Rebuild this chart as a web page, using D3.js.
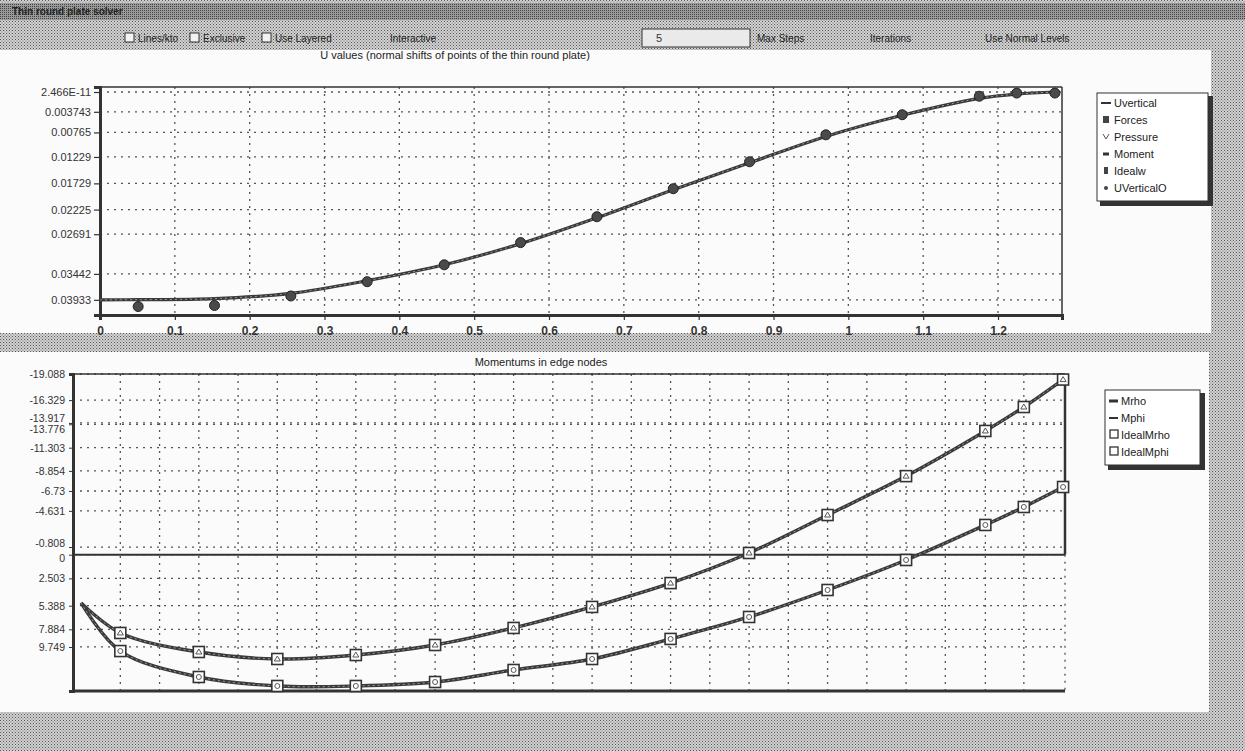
<!DOCTYPE html>
<html><head><meta charset="utf-8">
<script src="https://cdn.jsdelivr.net/npm/d3@7"></script>
<style>
body{margin:0;background:#b0b0b0;}
svg{display:block;font-family:Arial,'Liberation Sans',sans-serif;}
</style>
</head><body><svg id="c" width="1245" height="751"></svg>
<script>
// ---------- DATA ----------
// top chart: U values along the radius
const nodeX      = [0, 0.051, 0.153, 0.255, 0.357, 0.46, 0.562, 0.664, 0.766, 0.868, 0.97, 1.072, 1.175, 1.225, 1.276];
const uVertical  = [0.03933, 0.0393, 0.0391, 0.0381, 0.0357, 0.0327, 0.0287, 0.0238, 0.0185, 0.0134, 0.0084, 0.0044, 0.0012, 0.0004, 0.0];
const idealX     = [0.051, 0.153, 0.255, 0.357, 0.46, 0.562, 0.664, 0.766, 0.868, 0.97, 1.072, 1.175, 1.225, 1.276];
const idealW     = [0.0406, 0.0404, 0.0386, 0.0359, 0.0327, 0.0285, 0.0236, 0.0183, 0.0132, 0.0081, 0.0043, 0.0008, 0.0002, 0.0002];
const topYTickValues = [2.466e-11, 0.003743, 0.00765, 0.01229, 0.01729, 0.02225, 0.02691, 0.03442, 0.03933];
const topYTickLabels = ["2.466E-11", "0.003743", "0.00765", "0.01229", "0.01729", "0.02225", "0.02691", "0.03442", "0.03933"];
const topXTickValues = [0, 0.1, 0.2, 0.3, 0.4, 0.5, 0.6, 0.7, 0.8, 0.9, 1, 1.1, 1.2];
const topXTickLabels = ["0", "0.1", "0.2", "0.3", "0.4", "0.5", "0.6", "0.7", "0.8", "0.9", "1", "1.1", "1.2"];
const topLegend  = ["Uvertical", "Forces", "Pressure", "Moment", "Idealw", "UVerticalO"];
const topTitle   = "U values (normal shifts  of points of the thin round plate)";

// bottom chart: momentums in edge nodes
const mrho       = [5.1, 8.27, 10.28, 11.02, 10.6, 9.54, 7.74, 5.52, 3.0, -0.18, -4.19, -8.3, -13.07, -15.6, -18.5];
const mphi       = [5.1, 10.18, 12.92, 13.87, 13.87, 13.45, 12.18, 11.02, 8.9, 6.58, 3.73, 0.56, -3.14, -5.04, -7.15];
const idealMrho  = [8.27, 10.28, 11.02, 10.6, 9.54, 7.74, 5.52, 3.0, -0.18, -4.19, -8.3, -13.07, -15.6, -18.5];
const idealMphi  = [10.18, 12.92, 13.87, 13.87, 13.45, 12.18, 11.02, 8.9, 6.58, 3.73, 0.56, -3.14, -5.04, -7.15];
const botYTickValues = [-19.088, -16.329, -13.917, -13.776, -11.303, -8.854, -6.73, -4.631, -0.808, 0, 2.503, 5.388, 7.884, 9.749];
const botYTickLabels = ["-19.088", "-16.329", "-13.917", "-13.776", "-11.303", "-8.854", "-6.73", "-4.631", "-0.808", "0", "2.503", "5.388", "7.884", "9.749"];
const botYLabelShift = [0, 0, -5, 5, 0, 0, 0, 0, -4, 3, 0, 0, 0, 0];
const botGridX   = [0.051, 0.102, 0.153, 0.204, 0.255, 0.306, 0.357, 0.408, 0.46, 0.511, 0.562, 0.613, 0.664, 0.715, 0.766, 0.817, 0.868, 0.919, 0.97, 1.021, 1.072, 1.123, 1.175, 1.225];
const botLegend  = ["Mrho", "Mphi", "IdealMrho", "IdealMphi"];
const botTitle   = "Momentums in edge nodes";

const toolbarItems = [
  {t:"Lines/kto", cb:true, x:125},
  {t:"Exclusive", cb:true, x:190},
  {t:"Use Layered", cb:true, x:262},
  {t:"Interactive", cb:false, x:390},
  {t:"Max Steps", cb:false, x:757},
  {t:"Iterations", cb:false, x:870},
  {t:"Use Normal Levels", cb:false, x:985}
];

// ---------- DRAW ----------
const svg = d3.select("#c");
const defs = svg.append("defs");
const pat = defs.append("pattern").attr("id","half").attr("width",3).attr("height",3).attr("patternUnits","userSpaceOnUse");
pat.append("rect").attr("width",3).attr("height",3).attr("fill","#d2d2d2");
pat.append("rect").attr("x",0).attr("y",0).attr("width",1).attr("height",1).attr("fill","#555");
pat.append("rect").attr("x",1.5).attr("y",1.5).attr("width",1).attr("height",1).attr("fill","#6a6a6a");
const pat2 = defs.append("pattern").attr("id","halfDark").attr("width",2).attr("height",2).attr("patternUnits","userSpaceOnUse");
pat2.append("rect").attr("width",2).attr("height",2).attr("fill","#9a9a9a");
pat2.append("rect").attr("width",1).attr("height",1).attr("fill","#444");

svg.append("rect").attr("width",1245).attr("height",751).attr("fill","url(#half)");
svg.append("rect").attr("x",0).attr("y",3).attr("width",1245).attr("height",17).attr("fill","url(#halfDark)");
svg.append("text").attr("x",12).attr("y",15).attr("font-size",10).attr("font-weight","bold").attr("fill","#222").text("Thin round plate solver");

// toolbar
const tb = svg.append("g");
toolbarItems.forEach(d=>{
  let x = d.x;
  if(d.cb){
    tb.append("rect").attr("x",x).attr("y",33).attr("width",9).attr("height",9).attr("fill","#f2f2f2").attr("stroke","#333");
    x += 13;
  }
  tb.append("text").attr("x",x).attr("y",42).attr("font-size",10).attr("fill","#222").text(d.t);
});
tb.append("rect").attr("x",642).attr("y",29).attr("width",108).attr("height",18).attr("fill","#eaeaea").attr("stroke","#333");
tb.append("text").attr("x",656).attr("y",42).attr("font-size",11).attr("fill","#333").text("5");

// panels
svg.append("rect").attr("x",0).attr("y",50).attr("width",1211).attr("height",283).attr("fill","#fbfbfb");
svg.append("rect").attr("x",0).attr("y",352).attr("width",1209).attr("height",360).attr("fill","#fbfbfb");

const ink = "#333";
const gridStyle = sel => sel.attr("stroke","#555").attr("stroke-width",1.3).attr("stroke-dasharray","2,5");

// ======== TOP CHART ========
const T = {L:100, R:1062, T:87, B:315};
const xT = d3.scaleLinear().domain([0, 1.2855]).range([T.L, T.R]);
const yT = d3.scaleLinear().domain([-0.00095, 0.0422]).range([T.T, T.B]);

svg.append("text").attr("x",455).attr("y",59).attr("text-anchor","middle").attr("font-size",11).attr("fill","#222").text(topTitle);

const gT = svg.append("g");
gT.selectAll(".hg").data(topYTickValues).join("line")
  .attr("x1",T.L).attr("x2",T.R).attr("y1",d=>yT(d)).attr("y2",d=>yT(d)).call(gridStyle);
gT.selectAll(".vg").data(topXTickValues.slice(1)).join("line")
  .attr("x1",d=>xT(d)).attr("x2",d=>xT(d)).attr("y1",T.T).attr("y2",T.B).call(gridStyle);

// frame
gT.append("line").attr("x1",T.L).attr("x2",T.R).attr("y1",T.T).attr("y2",T.T).attr("stroke",ink).attr("stroke-width",1.5);
gT.append("line").attr("x1",T.R).attr("x2",T.R).attr("y1",T.T).attr("y2",T.B).attr("stroke",ink).attr("stroke-width",1.5);

const axTY = d3.axisLeft(yT).tickValues(topYTickValues).tickFormat((d,i)=>topYTickLabels[i]).tickSize(6).tickPadding(3);
const gAxTY = gT.append("g").attr("transform",`translate(${T.L},0)`).call(axTY);
const axTX = d3.axisBottom(xT).tickValues(topXTickValues).tickFormat((d,i)=>topXTickLabels[i]).tickSize(5).tickPadding(6);
const gAxTX = gT.append("g").attr("transform",`translate(0,${T.B})`).call(axTX);
[gAxTY,gAxTX].forEach(g=>{
  g.select(".domain").attr("stroke",ink).attr("stroke-width",3);
  g.selectAll("line").attr("stroke",ink).attr("stroke-width",1.2);
  g.selectAll("text").attr("fill","#333").attr("font-size",11).attr("font-family","Arial,'Liberation Sans',sans-serif");
});
gAxTX.selectAll("text").attr("font-size",12).attr("font-weight","bold");

const lineT = d3.line().x((d,i)=>xT(nodeX[i])).y(d=>yT(d)).curve(d3.curveCatmullRom);
gT.append("path").datum(uVertical).attr("d",lineT).attr("fill","none").attr("stroke","#3a3a3a").attr("stroke-width",3.2);
gT.append("path").datum(uVertical).attr("d",lineT).attr("fill","none").attr("stroke","#999").attr("stroke-width",1).attr("stroke-dasharray","2,3");
gT.selectAll(".mk").data(idealW).join("circle")
  .attr("cx",(d,i)=>xT(idealX[i])).attr("cy",d=>yT(d)).attr("r",5).attr("fill","#4a4a4a").attr("stroke","#222");

// top legend
const lgT = svg.append("g").attr("transform","translate(1097,93)");
lgT.append("rect").attr("x",3).attr("y",3).attr("width",113).attr("height",110).attr("fill","#333");
lgT.append("rect").attr("width",111).attr("height",108).attr("fill","#fff").attr("stroke",ink);
topLegend.forEach((t,i)=>{
  const y = 13 + i*17;
  const g = lgT.append("g");
  if(i===0) g.append("line").attr("x1",4).attr("x2",14).attr("y1",y-3).attr("y2",y-3).attr("stroke",ink).attr("stroke-width",2);
  else if(i===1) g.append("rect").attr("x",6).attr("y",y-7).attr("width",6).attr("height",7).attr("fill","#444");
  else if(i===2) g.append("path").attr("d",`M6,${y-6} L9,${y-1} L12,${y-6}`).attr("fill","none").attr("stroke","#555");
  else if(i===3) g.append("line").attr("x1",6).attr("x2",12).attr("y1",y-3).attr("y2",y-3).attr("stroke",ink).attr("stroke-width",3);
  else if(i===4) g.append("rect").attr("x",7).attr("y",y-7).attr("width",4).attr("height",7).attr("fill","#444");
  else g.append("circle").attr("cx",9).attr("cy",y-3).attr("r",2).attr("fill","#444");
  lgT.append("text").attr("x",17).attr("y",y+1).attr("font-size",11).attr("fill","#222").text(t);
});

// ======== BOTTOM CHART ========
const Bm = {L:73, R:1065, T:374, B:691};
const xB = d3.scaleLinear().domain([-0.0105, 1.2785]).range([Bm.L, Bm.R]);
const yB = d3.scaleLinear().domain([-19.088, 14.4]).range([Bm.T, Bm.B]);

svg.append("text").attr("x",541).attr("y",366).attr("text-anchor","middle").attr("font-size",11).attr("fill","#222").text(botTitle);

const gB = svg.append("g");
gB.selectAll(".hg").data(botYTickValues).join("line")
  .attr("x1",Bm.L).attr("x2",Bm.R).attr("y1",d=>yB(d)).attr("y2",d=>yB(d)).call(gridStyle);
gB.selectAll(".vg").data(botGridX).join("line")
  .attr("x1",d=>xB(d)).attr("x2",d=>xB(d)).attr("y1",Bm.T).attr("y2",Bm.B).call(gridStyle);

gB.append("line").attr("x1",Bm.L).attr("x2",Bm.R).attr("y1",Bm.T).attr("y2",Bm.T).attr("stroke",ink).attr("stroke-width",1.5);
gB.append("line").attr("x1",Bm.R).attr("x2",Bm.R).attr("y1",Bm.T).attr("y2",yB(0)).attr("stroke",ink).attr("stroke-width",2.5);
gB.append("line").attr("x1",Bm.R).attr("x2",Bm.R).attr("y1",yB(0)).attr("y2",Bm.B).call(gridStyle);
gB.append("line").attr("x1",Bm.L).attr("x2",Bm.R).attr("y1",yB(0)).attr("y2",yB(0)).attr("stroke",ink).attr("stroke-width",2);

const axBY = d3.axisLeft(yB).tickValues(botYTickValues).tickFormat((d,i)=>botYTickLabels[i]).tickSize(4).tickPadding(4);
const gAxBY = gB.append("g").attr("transform",`translate(${Bm.L},0)`).call(axBY);
gAxBY.select(".domain").attr("stroke",ink).attr("stroke-width",3);
gAxBY.selectAll("line").attr("stroke",ink);
gAxBY.selectAll("text").attr("fill","#333").attr("font-size",10.5).attr("font-family","Arial,'Liberation Sans',sans-serif")
  .attr("dy",(d,i)=>(0.32*10.5 + botYLabelShift[i]) + "px");
gB.append("line").attr("x1",Bm.L).attr("x2",Bm.R).attr("y1",Bm.B).attr("y2",Bm.B).attr("stroke",ink).attr("stroke-width",3);

const lineB = d3.line().x((d,i)=>xB(nodeX[i])).y(d=>yB(d)).curve(d3.curveCatmullRom);
[mrho, mphi].forEach(s=>{
  gB.append("path").datum(s).attr("d",lineB).attr("fill","none").attr("stroke","#3a3a3a").attr("stroke-width",3.4);
  gB.append("path").datum(s).attr("d",lineB).attr("fill","none").attr("stroke","#9a9a9a").attr("stroke-width",1).attr("stroke-dasharray","2,3");
});
const sq = 11;
gB.selectAll(".mr").data(idealMrho).join("g")
  .attr("transform",(d,i)=>`translate(${xB(idealX[i])},${yB(d)})`)
  .each(function(){
    const g = d3.select(this);
    g.append("rect").attr("x",-sq/2).attr("y",-sq/2).attr("width",sq).attr("height",sq).attr("fill","#fff").attr("stroke","#333").attr("stroke-width",1.6);
    g.append("path").attr("d","M-3,2 L0,-3 L3,2 Z").attr("fill","none").attr("stroke","#555").attr("stroke-width",1);
  });
gB.selectAll(".mp").data(idealMphi).join("g")
  .attr("transform",(d,i)=>`translate(${xB(idealX[i])},${yB(d)})`)
  .each(function(){
    const g = d3.select(this);
    g.append("rect").attr("x",-sq/2).attr("y",-sq/2).attr("width",sq).attr("height",sq).attr("fill","#fff").attr("stroke","#333").attr("stroke-width",1.6);
    g.append("circle").attr("r",2.5).attr("fill","none").attr("stroke","#555").attr("stroke-width",1);
  });

// bottom legend
const lgB = svg.append("g").attr("transform","translate(1105,390)");
lgB.append("rect").attr("x",3).attr("y",3).attr("width",97).attr("height",77).attr("fill","#333");
lgB.append("rect").attr("width",95).attr("height",75).attr("fill","#fff").attr("stroke",ink);
botLegend.forEach((t,i)=>{
  const y = 14 + i*17;
  if(i<2) lgB.append("line").attr("x1",4).attr("x2",13).attr("y1",y-3).attr("y2",y-3).attr("stroke",ink).attr("stroke-width",i===0?3:2);
  else lgB.append("rect").attr("x",5).attr("y",y-8).attr("width",8).attr("height",8).attr("fill","#fff").attr("stroke",ink).attr("stroke-width",1.3);
  lgB.append("text").attr("x",16).attr("y",y+1).attr("font-size",11).attr("fill","#222").text(t);
});
</script>
</body></html>
